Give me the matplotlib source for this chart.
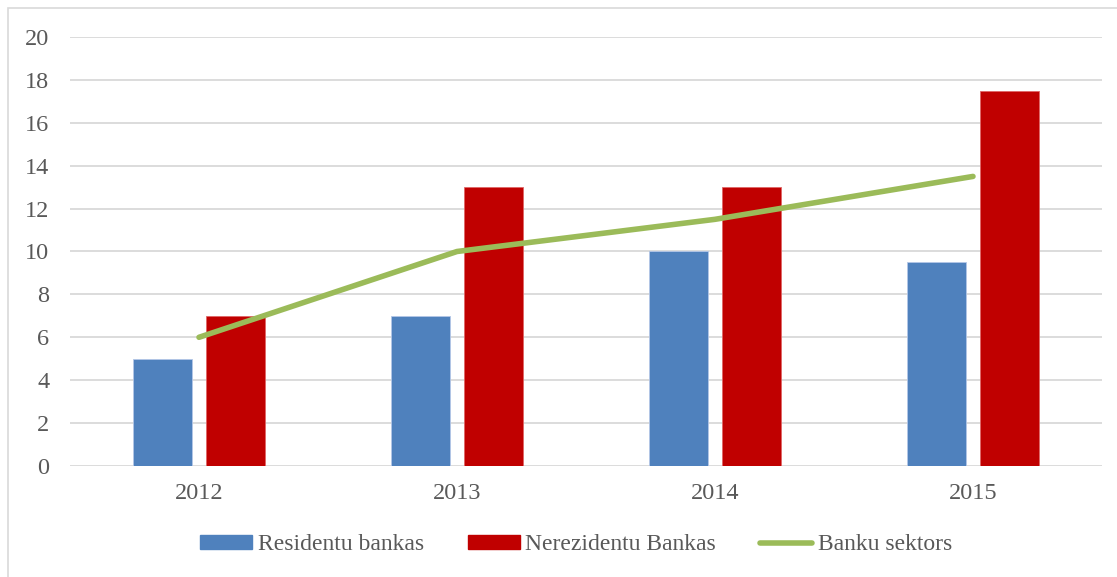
import matplotlib.pyplot as plt
import matplotlib.patches as mpatches
import matplotlib.lines as mlines
import numpy as np

years = ["2012", "2013", "2014", "2015"]
residentu = [5, 7, 10, 9.5]
nerezidentu = [7, 13, 13, 17.5]
sektors = [6, 10, 11.5, 13.5]
y_ticks = [0, 2, 4, 6, 8, 10, 12, 14, 16, 18, 20]

plt.rcParams['font.family'] = ['Liberation Serif', 'DejaVu Serif']
text_color = '#595959'
blue = '#4f81bd'
red = '#c00000'
green = '#9bbb59'

W, H = 1117, 577
fig = plt.figure(figsize=(W / 100, H / 100), dpi=100)

# outer chart frame (runs past the right and bottom edges)
fig.patches.append(mpatches.Rectangle((8 / W, -0.1), 1.2, 1 - 8 / H + 0.1,
                                      transform=fig.transFigure, fill=False,
                                      edgecolor='#d9d9d9', linewidth=1.2))

ax = fig.add_axes([70 / W, 1 - 466 / H, (1102 - 70) / W, (466 - 37) / H])
x = np.arange(len(years))
bw = 0.225
off = 0.1415
ax.bar(x - off, residentu, bw, color=blue, edgecolor='#b4c7e7', linewidth=0.6, zorder=2)
ax.bar(x + off, nerezidentu, bw, color=red, edgecolor='#e06666', linewidth=0.6, zorder=2)
ax.plot(x, sektors, color=green, linewidth=4, solid_capstyle='round', zorder=3)

ax.set_xlim(-0.5, len(years) - 0.5)
ax.set_ylim(0, 20)
ax.set_yticks(y_ticks)
ax.set_xticks(x)
ax.set_xticklabels(years)
ax.yaxis.grid(True, color='#d9d9d9', linewidth=1.3, zorder=0)
ax.set_axisbelow(True)
for s in ax.spines.values():
    s.set_visible(False)
ax.tick_params(axis='both', length=0, labelsize=17.5, colors=text_color)
ax.tick_params(axis='y', pad=15)
ax.tick_params(axis='x', pad=12)

handles = [mpatches.Patch(color=blue, label='Residentu bankas'),
           mpatches.Patch(color=red, label='Nerezidentu Bankas'),
           mlines.Line2D([], [], color=green, linewidth=4, solid_capstyle='round',
                         label='Banku sektors')]
leg = fig.legend(handles=handles, loc='center', bbox_to_anchor=(576 / W, 1 - 545 / H),
                 ncol=3, frameon=False, fontsize=17, handlelength=2.2,
                 handleheight=0.55, handletextpad=0.25, columnspacing=1.85,
                 borderpad=0)
for t in leg.get_texts():
    t.set_color(text_color)

fig.savefig('out.png', dpi=100)
